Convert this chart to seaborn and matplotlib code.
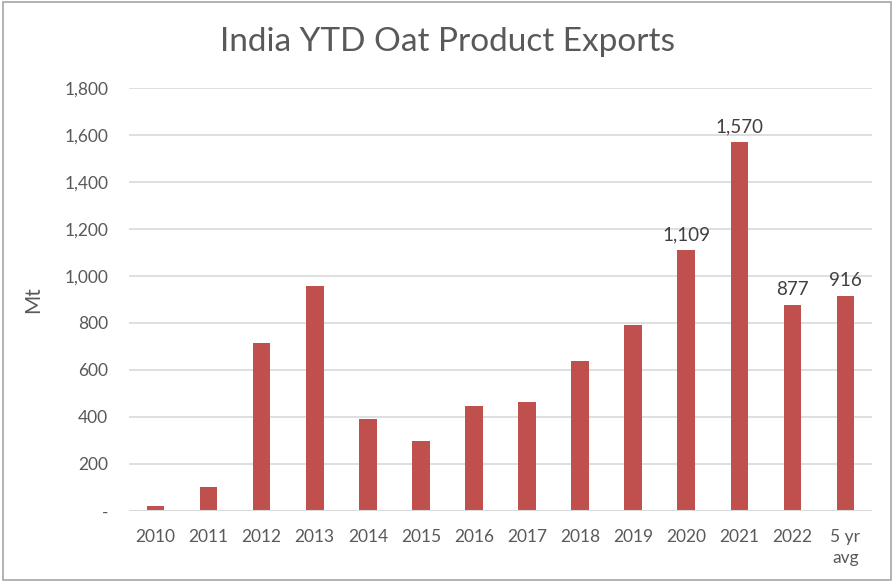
import matplotlib.pyplot as plt
import matplotlib.patches as patches
import pandas as pd
import seaborn as sns

# data
years = ['2010', '2011', '2012', '2013', '2014', '2015', '2016', '2017',
         '2018', '2019', '2020', '2021', '2022', '5 yr\navg']
exports = [20, 104, 717, 957, 391, 296, 447, 464, 639, 791, 1109, 1570, 877, 916]
labelled = ['2020', '2021', '2022', '5 yr\navg']
y_ticks = [0, 200, 400, 600, 800, 1000, 1200, 1400, 1600, 1800]

df = pd.DataFrame({'year': years, 'Mt': exports})

sns.set_style('white')
plt.rcParams['font.family'] = ['Lato', 'DejaVu Sans']
grey = '#595959'

fig = plt.figure(figsize=(8.94, 5.82), dpi=100)
ax = fig.add_axes([0.1443, 0.122, 0.8311, 0.7268])

sns.barplot(data=df, x='year', y='Mt', color='#C0504D', width=0.33,
            saturation=1, linewidth=0, ax=ax, zorder=3)

ax.set_ylim(0, 1800)
ax.set_yticks(y_ticks)
ax.set_yticklabels(['-' if v == 0 else f'{v:,}' for v in y_ticks])
ax.grid(axis='y', color='#D9D9D9', linewidth=1.2, zorder=0)
for s in ax.spines.values():
    s.set_visible(False)
ax.axhline(0, color='#D9D9D9', linewidth=1.5, zorder=4)
ax.tick_params(axis='both', length=0, labelsize=12.5, colors=grey)
ax.tick_params(axis='x', pad=13)
ax.tick_params(axis='y', pad=15)
for lbl in ax.get_xticklabels():
    lbl.set_linespacing(1.4)
ax.set_xlabel('')
ax.set_ylabel('Mt', fontsize=15, color=grey)
ax.yaxis.set_label_coords(-0.116, 0.5)

for i, (yr, v) in enumerate(zip(years, exports)):
    if yr in labelled:
        ax.text(i, v + 30, f'{v:,}', ha='center', va='bottom', fontsize=13.5, color='#404040')

fig.text(0.5, 0.927, 'India YTD Oat Product Exports', ha='center', va='center',
         fontsize=24, color=grey)

# outer chart border
fig.patches.append(patches.Rectangle((0.003, 0.003), 0.994, 0.994, transform=fig.transFigure,
                                     fill=False, edgecolor='#A6A6A6', linewidth=1.2))

fig.savefig('out.png', dpi=100)
